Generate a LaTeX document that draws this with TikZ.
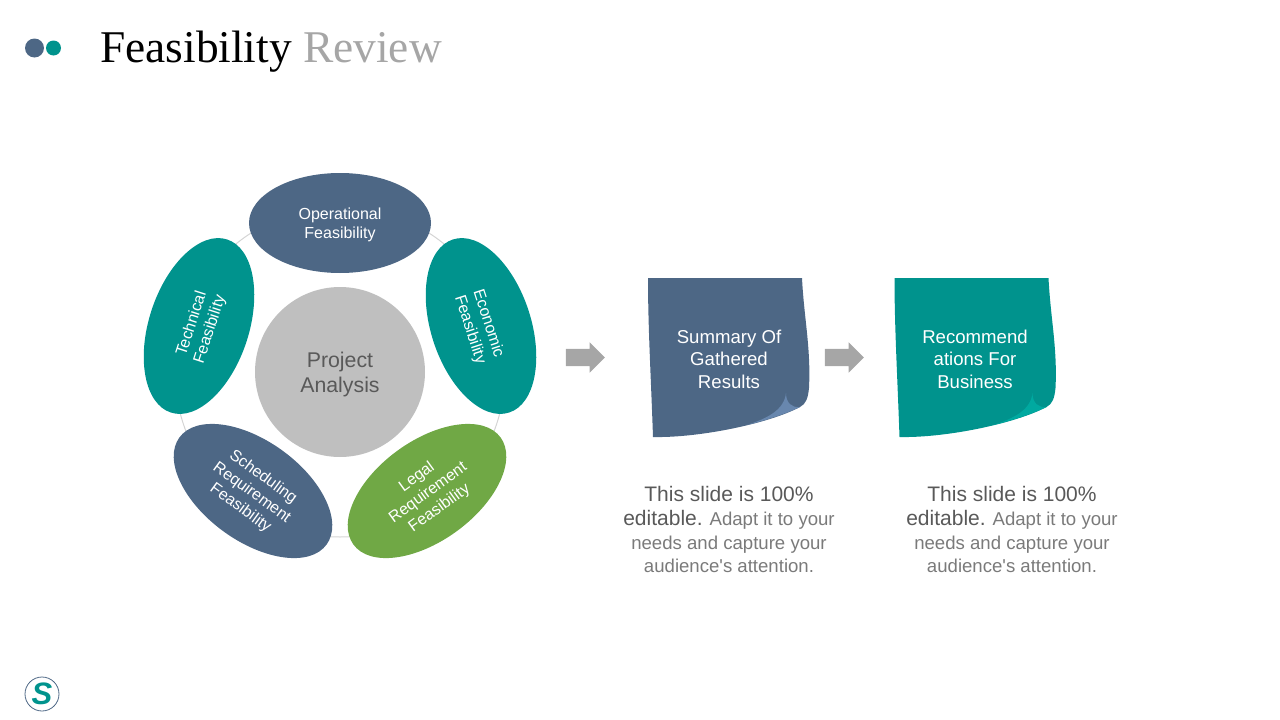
\documentclass[tikz,border=0pt]{standalone}
\usepackage{fontspec}
\setmainfont{Liberation Sans}
\newfontfamily\titlefont{Liberation Serif}
\usetikzlibrary{shapes.geometric,shapes.arrows}
\definecolor{slateblue}{HTML}{4D6785}
\definecolor{foldblue}{HTML}{6887AE}
\definecolor{seateal}{HTML}{00938D}
\definecolor{foldteal}{HTML}{00A9A0}
\definecolor{leafgreen}{HTML}{70A845}
\definecolor{hubgray}{HTML}{BFBFBF}
\definecolor{ringgray}{HTML}{D4D4D4}
\definecolor{arrowgray}{HTML}{A6A6A6}
\definecolor{darktext}{HTML}{595959}
\definecolor{softtext}{HTML}{7A7A7A}
\tikzset{
    petal/.style = {ellipse, minimum width=182pt, minimum height=100pt, inner sep=0pt, text=white, align=center, font=\fontsize{16}{19.2}\selectfont},
    flowarrow/.style = {single arrow, fill=arrowgray, minimum height=39pt, inner sep=8.5pt, single arrow head extend=6.5pt},
    notetext/.style = {text=white, align=center, font=\fontsize{18.6}{22.5}\selectfont},
    caption/.style = {align=center, text=softtext, font=\fontsize{18.6}{23.3}\selectfont},
    pics/notepaper/.style 2 args = {code = {
        \fill[#1] (0,0) -- (154,0) .. controls (156,40) and (163,70) .. (161,110)
            .. controls (160,120) and (158,126) .. (152,129)
            .. controls (120,146) and (50,160) .. (5,159)
            .. controls (3,100) and (0,50) .. (0,0) -- cycle;
        \fill[#2] (99,147) .. controls (120,140) and (136,132) .. (138,115)
            .. controls (138,125) and (144,130) .. (152,129)
            .. controls (135,137) and (115,143) .. (99,147) -- cycle;
    }}
}
\newcommand{\bigpart}[1]{{\fontsize{21}{24}\selectfont\color{darktext}#1}}
\newcommand{\lift}[1]{\rule{0pt}{#1}}
\begin{document}
\begin{tikzpicture}[x=1pt,y=-1pt]
    \useasboundingbox (0,0) rectangle (1280,720);
    % title
    \fill[slateblue] (34.5,48) circle (9.5);
    \fill[seateal] (53.5,48) circle (7.5);
    \node[anchor=base west, inner sep=0pt, font=\titlefont\fontsize{45.4}{50}\selectfont] (title) at (100,62) {Feasibility \textcolor{arrowgray}{Review}};
    % ring
    \node[circle, draw=ringgray, line width=1pt, minimum size=330pt, inner sep=0pt] (ring) at (340,372) {};
    \node[circle, fill=hubgray, minimum size=170pt, inner sep=0pt, text=darktext, align=center, font=\fontsize{21.3}{25}\selectfont] (hub) at (340,372) {\lift{20pt}Project\\Analysis};
    \node[petal, fill=slateblue] (oper) at (340,223) {\lift{16pt}Operational\\Feasibility};
    \node[petal, fill=seateal, rotate=-72] (econ) at (481,326) {\lift{16pt}Economic\\Feasibility};
    \node[petal, fill=leafgreen, rotate=36] (legal) at (427,491) {\lift{16pt}Legal\\Requirement\\Feasibility};
    \node[petal, fill=slateblue, rotate=-36] (sched) at (253,491) {\lift{16pt}Scheduling\\Requirement\\Feasibility};
    \node[petal, fill=seateal, rotate=72] (tech) at (199,326) {\lift{16pt}Technical\\Feasibility};
    % arrows
    \node[flowarrow] (arrowa) at (581,357.5) {};
    \node[flowarrow] (arrowb) at (840,357.5) {};
    % notes
    \pic at (648,278) {notepaper={slateblue}{foldblue}};
    \pic at (894.5,278) {notepaper={seateal}{foldteal}};
    \node[notetext] (summary) at (729,359) {Summary Of\\Gathered\\Results};
    \node[notetext] (recomm) at (975,359) {Recommend\\ations For\\Business};
    % captions
    \node[caption] (capa) at (729,529.2) {\bigpart{This slide is 100\%}\\[1.5pt]\bigpart{editable.} Adapt it to your\\needs and capture your\\audience\textquotesingle s attention.};
    \node[caption] (capb) at (1012,529.2) {\bigpart{This slide is 100\%}\\[1.5pt]\bigpart{editable.} Adapt it to your\\needs and capture your\\audience\textquotesingle s attention.};
    % logo
    \node[circle, draw=slateblue, line width=0.8pt, minimum size=34pt, inner sep=0pt, text=seateal, font=\fontsize{31}{31}\bfseries\itshape\selectfont] (logo) at (42,694) {S};
\end{tikzpicture}
\end{document}
